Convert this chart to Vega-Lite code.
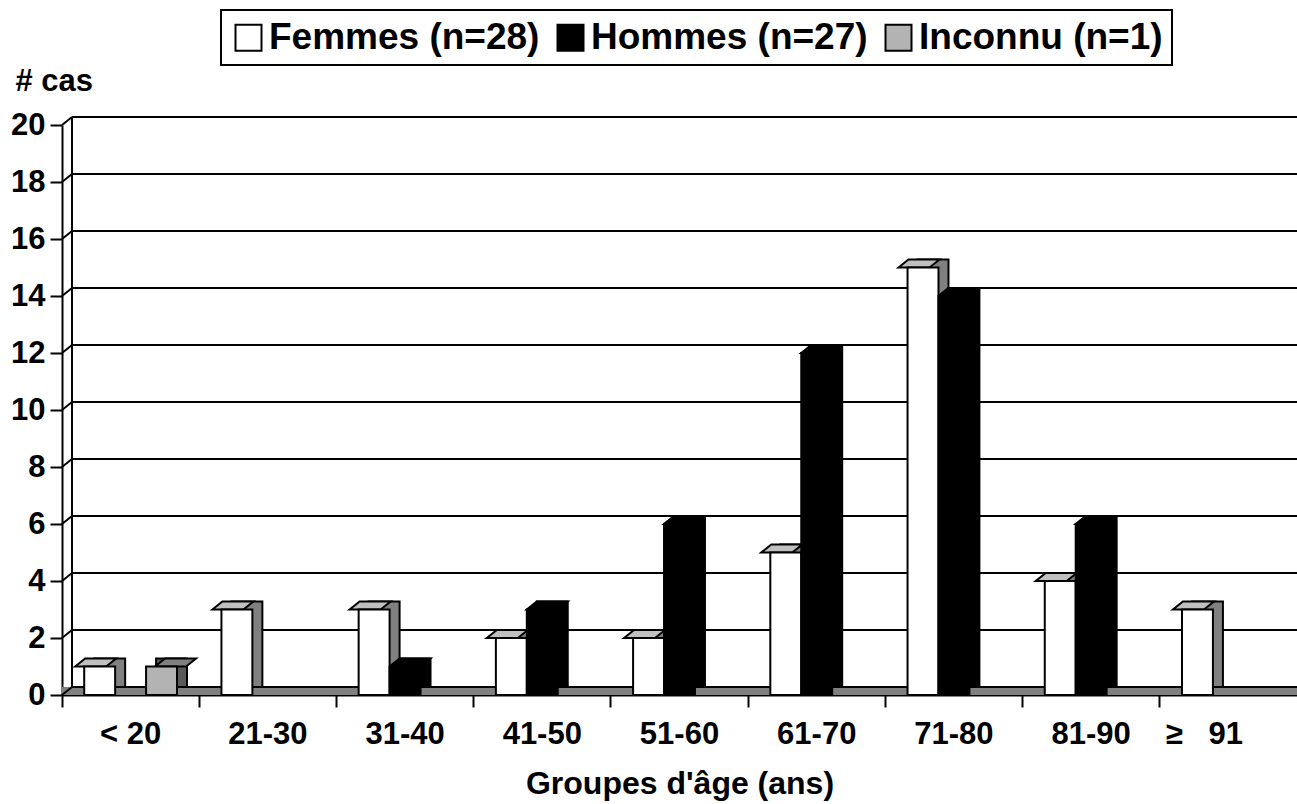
{
  "$schema": "https://vega.github.io/schema/vega-lite/v6.json",
  "autosize": {"type": "none"},
  "padding": {"left": 62, "top": 125, "right": 0, "bottom": 109},
  "width": 1235,
  "height": 570,
  "background": "white",
  "config": {"font": "Liberation Sans", "view": {"stroke": null}},
  "datasets": {
    "bars": [
      {"age": "< 20", "sexe": "Femmes (n=28)", "n": 1},
      {"age": "< 20", "sexe": "Inconnu (n=1)", "n": 1},
      {"age": "21-30", "sexe": "Femmes (n=28)", "n": 3},
      {"age": "31-40", "sexe": "Femmes (n=28)", "n": 3},
      {"age": "31-40", "sexe": "Hommes (n=27)", "n": 1},
      {"age": "41-50", "sexe": "Femmes (n=28)", "n": 2},
      {"age": "41-50", "sexe": "Hommes (n=27)", "n": 3},
      {"age": "51-60", "sexe": "Femmes (n=28)", "n": 2},
      {"age": "51-60", "sexe": "Hommes (n=27)", "n": 6},
      {"age": "61-70", "sexe": "Femmes (n=28)", "n": 5},
      {"age": "61-70", "sexe": "Hommes (n=27)", "n": 12},
      {"age": "71-80", "sexe": "Femmes (n=28)", "n": 15},
      {"age": "71-80", "sexe": "Hommes (n=27)", "n": 14},
      {"age": "81-90", "sexe": "Femmes (n=28)", "n": 4},
      {"age": "81-90", "sexe": "Hommes (n=27)", "n": 6},
      {"age": "\u2265\u00a0\u00a0\u00a091", "sexe": "Femmes (n=28)", "n": 3}
    ],
    "grid": [
      {"v": 0}, {"v": 2}, {"v": 4}, {"v": 6}, {"v": 8}, {"v": 10},
      {"v": 12}, {"v": 14}, {"v": 16}, {"v": 18}, {"v": 20}
    ]
  },
  "resolve": {
    "scale": {"x": "independent", "y": "independent", "xOffset": "independent", "fill": "independent"},
    "axis": {"x": "independent", "y": "independent"},
    "legend": {"fill": "independent"}
  },
  "layer": [
    {
      "data": {"name": "grid"},
      "transform": [{"filter": "datum.v == 0"}],
      "mark": {"type": "rule", "color": "#808080", "strokeWidth": 8, "yOffset": -4},
      "encoding": {
        "y": {"field": "v", "type": "quantitative", "scale": {"domain": [0, 20], "nice": false}, "axis": null}
      }
    },
    {
      "data": {"name": "grid"},
      "mark": {"type": "rule", "color": "black", "strokeWidth": 2},
      "encoding": {
        "x": {"datum": 0, "type": "quantitative", "axis": null, "scale": {"domain": [0, 1], "nice": false, "range": [10, 1245]}},
        "x2": {"datum": 1},
        "y": {"field": "v", "type": "quantitative", "scale": {"domain": [0, 20], "nice": false, "range": [562, -8]}, "axis": null}
      }
    },
    {
      "data": {"name": "grid"},
      "mark": {"type": "point", "filled": false, "opacity": 1, "size": 4, "shape": "M 0 0 L 10 -8", "stroke": "black", "strokeWidth": 2},
      "encoding": {
        "x": {"datum": 0, "type": "quantitative", "axis": null, "scale": {"domain": [0, 1], "nice": false}},
        "y": {"field": "v", "type": "quantitative", "scale": {"domain": [0, 20], "nice": false}, "axis": null}
      }
    },
    {
      "data": {"name": "grid"},
      "transform": [{"filter": "datum.v == 0"}],
      "mark": {"type": "rule", "color": "black", "strokeWidth": 2},
      "encoding": {
        "x": {"datum": 0, "type": "quantitative", "axis": null, "scale": {"domain": [0, 1], "nice": false, "range": [10, 1245]}},
        "y": {"datum": 0, "type": "quantitative", "axis": null, "scale": {"domain": [0, 20], "nice": false, "range": [562, -8]}},
        "y2": {"datum": 20}
      }
    },
    {
      "data": {"name": "bars"},
      "mark": {"type": "bar", "stroke": "black", "strokeWidth": 2},
      "encoding": {
        "x": {"field": "age", "type": "nominal", "axis": null,
          "scale": {"domain": ["< 20", "21-30", "31-40", "41-50", "51-60", "61-70", "71-80", "81-90", "\u2265\u00a0\u00a0\u00a091"], "paddingInner": 0, "paddingOuter": 0, "range": [10, 1245]}},
        "xOffset": {"field": "sexe", "type": "nominal",
          "scale": {"domain": ["Femmes (n=28)", "Hommes (n=27)", "Inconnu (n=1)"], "paddingInner": 0, "paddingOuter": 0.718}},
        "y": {"field": "n", "type": "quantitative", "axis": null, "scale": {"domain": [0, 20], "nice": false, "range": [562, -8]}},
        "fill": {"field": "sexe", "type": "nominal", "legend": null,
          "scale": {"domain": ["Femmes (n=28)", "Hommes (n=27)", "Inconnu (n=1)"], "range": ["#808080", "#000000", "#5a5a5a"]}}
      }
    },
    {
      "data": {"name": "bars"},
      "mark": {"type": "point", "filled": true, "opacity": 1, "size": 4,
        "shape": "M -15.5 0 L 15.5 0 L 25.5 -8 L -5.5 -8 Z", "stroke": "black", "strokeWidth": 2, "strokeJoin": "miter"},
      "encoding": {
        "x": {"field": "age", "type": "nominal", "axis": null,
          "scale": {"domain": ["< 20", "21-30", "31-40", "41-50", "51-60", "61-70", "71-80", "81-90", "\u2265\u00a0\u00a0\u00a091"], "paddingInner": 0, "paddingOuter": 0}},
        "xOffset": {"field": "sexe", "type": "nominal",
          "scale": {"domain": ["Femmes (n=28)", "Hommes (n=27)", "Inconnu (n=1)"], "paddingInner": 0, "paddingOuter": 0.718}},
        "y": {"field": "n", "type": "quantitative", "axis": null, "scale": {"domain": [0, 20], "nice": false}},
        "fill": {"field": "sexe", "type": "nominal", "legend": null,
          "scale": {"domain": ["Femmes (n=28)", "Hommes (n=27)", "Inconnu (n=1)"], "range": ["#c0c0c0", "#000000", "#808080"]}}
      }
    },
    {
      "data": {"name": "bars"},
      "mark": {"type": "bar", "stroke": "black", "strokeWidth": 2},
      "encoding": {
        "x": {"field": "age", "type": "nominal",
          "scale": {"domain": ["< 20", "21-30", "31-40", "41-50", "51-60", "61-70", "71-80", "81-90", "\u2265\u00a0\u00a0\u00a091"], "paddingInner": 0, "paddingOuter": 0},
          "axis": {"title": "Groupes d'âge (ans)", "labelAngle": 0, "bandPosition": 0, "tickSize": 12, "tickWidth": 2, "tickColor": "black",
            "labelOffset": {"condition": {"test": "indexof(datum.label, '91') >= 0", "value": -24}, "value": 0},
            "domainColor": "black", "domainWidth": 2, "labelFontSize": 31, "labelFontWeight": "bold", "labelColor": "black", "labelPadding": 12,
            "titleFontSize": 32, "titleFontWeight": "bold", "titleColor": "black", "titlePadding": 19, "grid": false, "labelFlush": false}},
        "xOffset": {"field": "sexe", "type": "nominal",
          "scale": {"domain": ["Femmes (n=28)", "Hommes (n=27)", "Inconnu (n=1)"], "paddingInner": 0, "paddingOuter": 0.718}},
        "y": {"field": "n", "type": "quantitative", "scale": {"domain": [0, 20], "nice": false},
          "axis": {"title": "# cas", "values": [0, 2, 4, 6, 8, 10, 12, 14, 16, 18, 20], "grid": false, "tickSize": 12, "tickWidth": 2, "tickColor": "black",
            "domainColor": "black", "domainWidth": 2, "labelFontSize": 31, "labelFontWeight": "bold", "labelColor": "black", "labelPadding": 5,
            "titleAngle": 0, "titleX": -47, "titleY": -35, "titleAlign": "left", "titleBaseline": "alphabetic",
            "titleFontSize": 31, "titleFontWeight": "bold", "titleColor": "black"}},
        "fill": {"field": "sexe", "type": "nominal",
          "scale": {"domain": ["Femmes (n=28)", "Hommes (n=27)", "Inconnu (n=1)"], "range": ["#ffffff", "#000000", "#b3b3b3"]},
          "legend": {"orient": "none", "legendX": 159, "legendY": -115, "direction": "horizontal", "title": null,
            "symbolType": "square", "symbolSize": 676, "symbolStrokeColor": "black", "symbolStrokeWidth": 2, "symbolOpacity": 1,
            "labelFontSize": 37, "labelFontWeight": "bold", "labelColor": "black", "labelOffset": 2, "labelLimit": 0, "columnPadding": 12,
            "padding": 9, "strokeColor": "black", "fillColor": "white",
            "encode": {"legend": {"update": {"strokeWidth": {"value": 2}}}}}}
      }
    }
  ]
}
